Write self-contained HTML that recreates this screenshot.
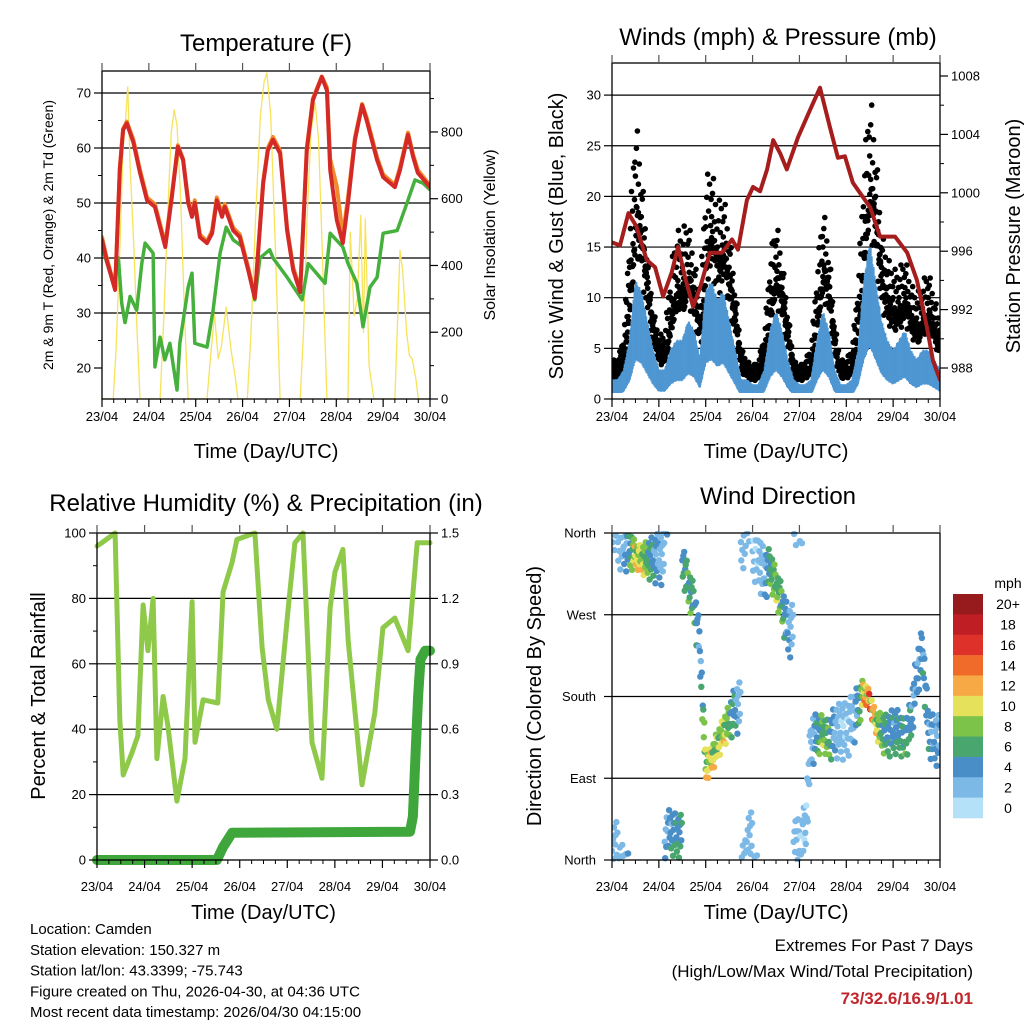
<!DOCTYPE html>
<html><head><meta charset="utf-8"><style>
html,body{margin:0;padding:0;background:#fff;}
svg{display:block;font-family:"Liberation Sans",sans-serif;}
</style></head><body>
<svg id="c" width="1024" height="1024" viewBox="0 0 1024 1024" xmlns="http://www.w3.org/2000/svg"></svg>
<script>
// ---------- data ----------
const dayLabels = ["23/04","24/04","25/04","26/04","27/04","28/04","29/04","30/04"];
const tempTimes = [0,0.1,0.28,0.38,0.45,0.53,0.67,0.81,0.96,1.13,1.35,1.49,1.62,1.73,1.84,1.92,1.98,2.09,2.24,2.35,2.45,2.56,2.62,2.8,2.94,3.12,3.26,3.44,3.54,3.65,3.8,3.95,4.08,4.23,4.37,4.5,4.69,4.8,4.87,5.01,5.14,5.25,5.4,5.55,5.65,5.87,6.0,6.25,6.36,6.53,6.64,6.74,7.0];
const temp2m = [43.3,39.6,34.2,56,63.3,64.5,61,55.5,50.5,49.3,42,51,60.2,57.8,50,47.5,50,43.8,42.7,44.5,50.5,47.5,49.3,45,43.8,37.8,32.7,53.6,59.6,61.5,59,45,37.8,33.8,59.6,68.7,72.9,70.5,56,46.9,42.7,50,61.5,67.8,65,57.8,54.7,52.9,56,62.4,58.4,55.5,52.9];
const temp9m = [43.8,40,34.5,56.5,63.5,64.8,61.5,56,51,49.8,42.5,51.5,60.5,58,50.5,48,50.5,44.3,43,45,51,48,49.8,45.5,44.3,38.3,33,54,60,62,59.5,45.5,38.3,34.2,60,69,73,71,58,53,44,51,62,68,65.5,58.3,55.2,53.3,56.5,62.8,58.8,56,53.2];
const dewTimes = [0,0.24,0.35,0.42,0.49,0.6,0.74,0.85,0.92,1.09,1.13,1.24,1.34,1.45,1.6,1.66,1.84,1.92,1.98,2.24,2.37,2.52,2.65,2.8,3.01,3.16,3.26,3.37,3.58,3.65,3.95,4.27,4.4,4.76,4.87,5.14,5.25,5.44,5.57,5.72,5.87,6.0,6.3,6.51,6.68,6.85,7.0];
const dew2m = [42,35.4,40,31.8,28.2,33,30.5,39,42.7,40.9,20.2,25.6,21.5,24.5,16,24.5,34.7,37.3,24.5,23.8,30.5,40.9,45.6,43.3,42,36.5,32.4,40,41.5,40,36.5,32.4,39,35.4,44.5,42,39,35.4,27.5,34.7,36.5,44.5,45,50,54.2,53.6,52.4];
const solarTimes = [0,0.24,0.3,0.38,0.45,0.5,0.55,0.6,0.68,0.75,0.81,1.24,1.32,1.4,1.48,1.54,1.6,1.68,1.76,1.84,2.24,2.3,2.4,2.48,2.55,2.65,2.75,2.85,2.9,3.1,3.18,3.28,3.38,3.46,3.52,3.6,3.7,3.8,4.23,4.3,4.38,4.46,4.55,4.62,4.7,4.8,5.25,5.3,5.38,5.45,5.52,5.58,5.62,5.7,5.8,6.25,6.36,6.42,6.5,6.56,6.62,6.7,6.75,7.0];
const solar = [0,0,150,450,750,830,935,700,450,200,0, 0,250,550,800,866,820,600,250,0, 0,100,255,120,160,275,150,60,0, 0,200,550,850,950,977,850,450,0, 0,200,550,800,887,780,450,0, 0,500,250,300,550,200,540,100,0, 0,446,380,200,130,120,60,0, 0];
const windMean = [2,2,3,6,12,11,8,5, 3,3,5,6,6,8,7,4, 11,12,10,11,8,5,2,2, 1.5,1.5,3,7,9,7,4,2, 1.5,1.5,2,6,9,7,3,1.5, 1.5,2,5,12,16,12,8,6, 5,6,7,5,4,5,5,4, 3];
const windGust = [3,3,5,13,22,18,12,7, 5,5,10,13,13,14,11,8, 17,18,15,16,13,9,4,3, 2.5,3,5,11,14,11,7,3, 2.5,3,4,10,15,12,6,3, 3,4,9,18,24,20,13,11, 10,10,11,9,8,9,10,8, 6];
const presTimes = [0,0.17,0.35,0.52,0.74,0.92,1.09,1.27,1.41,1.56,1.73,1.88,2.09,2.35,2.56,2.69,2.88,3.01,3.16,3.31,3.44,3.59,3.73,3.97,4.23,4.44,4.65,4.82,4.97,5.14,5.29,5.51,5.72,6.04,6.3,6.51,6.72,6.85,7.0];
const pressure = [996.6,996.4,998.6,997.7,995.4,994.9,992.9,994.5,996.3,994.2,992.2,993.5,995.9,995.9,996.8,996.1,999.5,1000.4,1000.1,1001.6,1003.6,1002.7,1001.6,1003.8,1005.7,1007.2,1004.5,1002.4,1002.5,1000.7,1000,999,997,997,995.9,994,990.8,988.5,987.2];
const windDir = [10,350,345,340,335,330,330,330, 330,20,30,25,330,300,280,230, 100,110,125,140,150,165,350,20, 340,330,310,320,300,280,250,20, 10,30,130,135,140,130,140,140, 140,150,165,185,175,150,140,135, 140,140,130,150,200,230,140,130, 130];
const rhTimes = [0,0.1,0.38,0.48,0.55,0.74,0.86,0.97,1.07,1.18,1.26,1.39,1.49,1.68,1.85,2.0,2.06,2.23,2.54,2.65,2.84,2.94,3.32,3.47,3.6,3.78,4.02,4.16,4.33,4.52,4.73,4.9,5.0,5.17,5.28,5.57,5.84,6.01,6.26,6.54,6.73,6.96,7.0];
const rh = [96,97,100,43,26,33,38,78,64,80,31,50,41,18,31,79,36,49,48,82,91,98,100,65,49,40,77,97,100,36,25,77,88,95,67,23,45,71,74,64,97,97,97];
const precipTimes = [0,2.52,2.65,2.84,6.58,6.64,6.7,6.75,6.8,6.9,7.0];
const precip = [0,0,0.06,0.125,0.13,0.2,0.5,0.75,0.92,0.96,0.96];
const speedLabels = ["0","2","4","6","8","10","12","14","16","18","20+"];
const speedColors = ["#b5e1f8","#7cb9e6","#4a8ec8","#48a66e","#7cc34a","#e6e15a","#f7a945","#f06a2a","#de3129","#c01e25","#971a1d"];

// ---------- helpers ----------
const svg = document.getElementById('c');
const NS = "http://www.w3.org/2000/svg";
function mk(tag, attrs, parent, text){
  const e = document.createElementNS(NS, tag);
  for (const k in attrs) e.setAttribute(k, attrs[k]);
  if (text !== undefined) e.textContent = text;
  (parent||svg).appendChild(e);
  return e;
}
const mult = [1,0.78,1.16,0.9,1.28,0.68,1.06,0.84,1.2,0.74,0.96,1.1];
const dirOff = [0,-14,9,-6,18,-20,5,12,-9,22,-3,14];

function frame(name){
  const g = mk('g',{});
  
  
  return g;
}
function axes(p, g, tickDy){
  mk('rect',{x:p.x0,y:p.y0,width:p.x1-p.x0,height:p.y1-p.y0,fill:'none',stroke:'#000','stroke-width':1.3},g);
  const xs = d=>p.x0+d*(p.x1-p.x0)/7;
  for (let i=0;i<=7;i++){
    const x=xs(i);
    mk('line',{x1:x,y1:p.y1,x2:x,y2:p.y1+8,stroke:'#000','stroke-width':1.2},g);
    mk('line',{x1:x,y1:p.y0,x2:x,y2:p.y0-8,stroke:'#555','stroke-width':1.2},g);
    const t = mk('text',{x:x,y:p.y1+tickDy,'text-anchor':'middle','font-size':13},g,dayLabels[i]);
    
    
    if (i<7) for (let h=1;h<4;h++){
      const xm=xs(i+h/4);
      mk('line',{x1:xm,y1:p.y1,x2:xm,y2:p.y1+4,stroke:'#000','stroke-width':1},g);
    }
  }
  const xt = mk('text',{x:(p.x0+p.x1)/2,y:p.y1+59,'text-anchor':'middle','font-size':20},g,'Time (Day/UTC)');
  
  
  return xs;
}
function leftTicks(g,p,vals,fy,labels,minor){
  vals.forEach((v,i)=>{
    const y=fy(v);
    mk('line',{x1:p.x0-8,y1:y,x2:p.x0,y2:y,stroke:'#000','stroke-width':1.2},g);
    const t=mk('text',{x:p.x0-11,y:y+4.5,'text-anchor':'end','font-size':13},g,labels[i]);
    
    
  });
  (minor||[]).forEach(v=>{const y=fy(v); mk('line',{x1:p.x0-4,y1:y,x2:p.x0,y2:y,stroke:'#000','stroke-width':1},g);});
}
function rightTicks(g,p,vals,fy,labels,minor){
  vals.forEach((v,i)=>{
    const y=fy(v);
    mk('line',{x1:p.x1,y1:y,x2:p.x1+8,y2:y,stroke:'#000','stroke-width':1.2},g);
    const t=mk('text',{x:p.x1+11,y:y+4.5,'text-anchor':'start','font-size':13},g,labels[i]);
    
    
  });
  (minor||[]).forEach(v=>{const y=fy(v); mk('line',{x1:p.x1,y1:y,x2:p.x1+4,y2:y,stroke:'#000','stroke-width':1},g);});
}
function grid(g,p,vals,fy){
  vals.forEach(v=>{const y=fy(v); mk('line',{x1:p.x0,y1:y,x2:p.x1,y2:y,stroke:'#000','stroke-width':1.2},g);});
}
function title(txt,x,y,name){
  const t=mk('text',{x:x,y:y,'text-anchor':'middle','font-size':24},svg,txt);
  
  
}
function vtitle(txt,x,y,size,name){
  const t=mk('text',{x:x,y:y,'text-anchor':'middle','font-size':size,transform:`rotate(-90 ${x} ${y})`},svg,txt);
  
  
}
function path(xs,fy,ts,vs,attrs,g,name){
  let d='';
  ts.forEach((t,i)=>{d+=(i?'L':'M')+xs(t).toFixed(1)+','+fy(vs[i]).toFixed(1);});
  const e=mk('path',Object.assign({d:d,fill:'none','stroke-linejoin':'round','stroke-linecap':'round'},attrs),g);
  
  
  return e;
}

// ---------- Panel 1: Temperature ----------
(function(){
  const p={x0:102,x1:430,y0:71,y1:399};
  const g=frame('temperature-panel');
  const yT=v=>368-(v-20)*5.5;
  const yS=v=>399-v*0.3338;
  const clip=mk('clipPath',{id:'cp1'},svg); mk('rect',{x:p.x0,y:p.y0,width:p.x1-p.x0,height:p.y1-p.y0},clip);
  const xs=d=>p.x0+d*(p.x1-p.x0)/7;
  grid(g,p,[30,40,50,60,70],yT);
  const pg=mk('g',{'clip-path':'url(#cp1)'},g);
  path(xs,yS,solarTimes,solar,{stroke:'#f7e35a','stroke-width':1.3},pg,'solar-insolation-line');
  path(xs,yT,dewTimes,dew2m,{stroke:'#46b03c','stroke-width':3.5,'stroke-dasharray':'2.5 1'},pg,'dewpoint-line');
  path(xs,yT,tempTimes,temp9m,{stroke:'#f08a2a','stroke-width':4},pg,'temp-9m-line');
  path(xs,yT,tempTimes,temp2m,{stroke:'#d42a27','stroke-width':4},pg,'temp-2m-line');
  axes(p,g,22);
  leftTicks(g,p,[20,30,40,50,60,70],yT,['20','30','40','50','60','70'],[25,35,45,55,65]);
  rightTicks(g,p,[0,200,400,600,800],yS,['0','200','400','600','800'],[100,300,500,700,900]);
  title('Temperature (F)',266,51,'temperature-title');
  vtitle('2m & 9m T (Red, Orange) & 2m Td (Green)',53,235,14,'temperature-y-axis-title');
  vtitle('Solar Insolation (Yellow)',495,235,16,'solar-y-axis-title');
})();

// ---------- Panel 2: Winds ----------
(function(){
  const p={x0:612,x1:940,y0:63,y1:399};
  const g=frame('winds-panel');
  const yW=v=>399-v*10.13;
  const yP=v=>368-(v-988)*14.6;
  const xs=d=>p.x0+d*(p.x1-p.x0)/7;
  const clip=mk('clipPath',{id:'cp2'},svg); mk('rect',{x:p.x0,y:p.y0,width:p.x1-p.x0,height:p.y1-p.y0},clip);
  grid(g,p,[5,10,15,20,25,30],yW);
  const pg=mk('g',{'clip-path':'url(#cp2)'},g);
  const N=windMean.length, sub=12;
  for(let i=0;i<N-1;i++){
    for(let j=0;j<sub;j++){
      const t=(i+j/sub)/8;
      const g1=windGust[i]+(windGust[i+1]-windGust[i])*j/sub;
      const m1=windMean[i]+(windMean[i+1]-windMean[i])*j/sub;
      const v=g1*mult[j];
      const c=mk('circle',{cx:xs(t).toFixed(1),cy:yW(v).toFixed(1),r:2.8,fill:'#000'},pg);
      
      
      const v2=m1+(g1-m1)*mult[(j+5)%12]*0.6;
      const c2=mk('circle',{cx:(xs(t)+1.5).toFixed(1),cy:yW(v2).toFixed(1),r:2.8,fill:'#000'},pg);
      
      
    }
  }
  for(let i=0;i<N-1;i++){
    for(let j=0;j<sub*2;j++){
      const t=(i+j/(sub*2))/8;
      const m=windMean[i]+(windMean[i+1]-windMean[i])*j/(sub*2);
      const v=m*(0.72+0.2*mult[j%12]);
      const l=mk('line',{x1:xs(t).toFixed(1),x2:xs(t).toFixed(1),y1:yW(Math.max(0.6,v*0.4-0.3*mult[(j+2)%12])),y2:yW(v),stroke:'#4f97d3','stroke-width':2},pg);
      
      
    }
  }
  path(xs,yP,presTimes,pressure,{stroke:'#a51d1d','stroke-width':4},pg,'pressure-line');
  axes(p,g,22);
  leftTicks(g,p,[0,5,10,15,20,25,30],yW,['0','5','10','15','20','25','30'],[]);
  rightTicks(g,p,[988,992,996,1000,1004,1008],yP,['988','992','996','1000','1004','1008'],[990,994,998,1002,1006]);
  title('Winds (mph) & Pressure (mb)',778,45,'winds-title');
  vtitle('Sonic Wind & Gust (Blue, Black)',563,236,20,'wind-y-axis-title');
  vtitle('Station Pressure (Maroon)',1020,236,20,'pressure-y-axis-title');
})();

// ---------- Panel 3: RH & Precip ----------
(function(){
  const p={x0:97,x1:430,y0:533,y1:860};
  const g=frame('humidity-panel');
  const yH=v=>860-v*3.27;
  const yR=v=>860-v*218;
  const xs=d=>p.x0+d*(p.x1-p.x0)/7;
  grid(g,p,[20,40,60,80],yH);
  path(xs,yH,rhTimes,rh,{stroke:'#8ec94a','stroke-width':5},g,'relative-humidity-line');
  path(xs,yR,precipTimes,precip,{stroke:'#3fa63c','stroke-width':10},g,'precipitation-line');
  axes(p,g,31);
  leftTicks(g,p,[0,20,40,60,80,100],yH,['0','20','40','60','80','100'],[10,30,50,70,90]);
  rightTicks(g,p,[0,0.3,0.6,0.9,1.2,1.5],yR,['0.0','0.3','0.6','0.9','1.2','1.5'],[]);
  title('Relative Humidity (%) & Precipitation (in)',266,511,'humidity-title');
  vtitle('Percent & Total Rainfall',45,696,20,'humidity-y-axis-title');
})();

// ---------- Panel 4: Wind direction ----------
(function(){
  const p={x0:612,x1:940,y0:533,y1:860};
  const g=frame('wind-direction-panel');
  const yD=v=>860-v*(327/360);
  const xs=d=>p.x0+d*(p.x1-p.x0)/7;
  const clip=mk('clipPath',{id:'cp4'},svg); mk('rect',{x:p.x0,y:p.y0-2,width:p.x1-p.x0,height:p.y1-p.y0+4},clip);
  grid(g,p,[90,180,270],yD);
  const pg=mk('g',{'clip-path':'url(#cp4)'},g);
  const N=windDir.length, sub=12;
  for(let i=0;i<N-1;i++){
    for(let j=0;j<sub;j++){
      const t=(i+j/sub)/8;
      let a=windDir[i], b=windDir[i+1];
      if (Math.abs(b-a)>180) b=a;
      const m=windMean[i]+(windMean[i+1]-windMean[i])*j/sub;
      let dir=a+(b-a)*j/sub+dirOff[j]*Math.max(0.5,1.6-0.08*m);
      dir=((dir%360)+360)%360;
      const sp=m*mult[(j+3)%12]*0.85;
      const ci=Math.min(10,Math.max(0,Math.round(sp/2)));
      const c=mk('circle',{cx:xs(t).toFixed(1),cy:yD(dir).toFixed(1),r:3.2,fill:speedColors[ci]},pg);
      
      
    }
  }
  axes(p,g,31);
  const dl=['North','East','South','West','North'];
  [0,90,180,270,360].forEach((v,i)=>{
    const y=yD(v);
    mk('line',{x1:p.x0-8,y1:y,x2:p.x0,y2:y,stroke:'#000','stroke-width':1.2},g);
    const t=mk('text',{x:p.x0-16,y:y+4.5,'text-anchor':'end','font-size':13},g,dl[i]);
    
    
  });
  title('Wind Direction',778,504,'wind-direction-title');
  vtitle('Direction (Colored By Speed)',541,696,20,'direction-y-axis-title');
  const cb=mk('g',{});
  
  
  const top=594, bh=(818-594)/11;
  mk('text',{x:1008,y:588,'text-anchor':'middle','font-size':14},cb,'mph');
  for(let k=0;k<11;k++){
    const idx=10-k;
    mk('rect',{x:953,y:top+k*bh,width:30,height:bh+0.3,fill:speedColors[idx]},cb);
    const t=mk('text',{x:1008,y:top+k*bh+bh/2+5,'text-anchor':'middle','font-size':14},cb,speedLabels[idx]);
    
    
  }
})();

// ---------- footer ----------
(function(){
  const f=mk('g',{'font-size':15});
  
  
  ['Location: Camden','Station elevation: 150.327 m','Station lat/lon: 43.3399; -75.743','Figure created on Thu, 2026-04-30, at 04:36 UTC','Most recent data timestamp: 2026/04/30 04:15:00']
    .forEach((s,i)=>mk('text',{x:30,y:934+i*20.8},f,s));
  const e=mk('g',{'font-size':17});
  
  
  mk('text',{x:973,y:951,'text-anchor':'end'},e,'Extremes For Past 7 Days');
  mk('text',{x:973,y:977,'text-anchor':'end'},e,'(High/Low/Max Wind/Total Precipitation)');
  mk('text',{x:973,y:1004,'text-anchor':'end','font-weight':'bold',fill:'#c0272d'},e,'73/32.6/16.9/1.01');
})();
</script>
</body></html>
